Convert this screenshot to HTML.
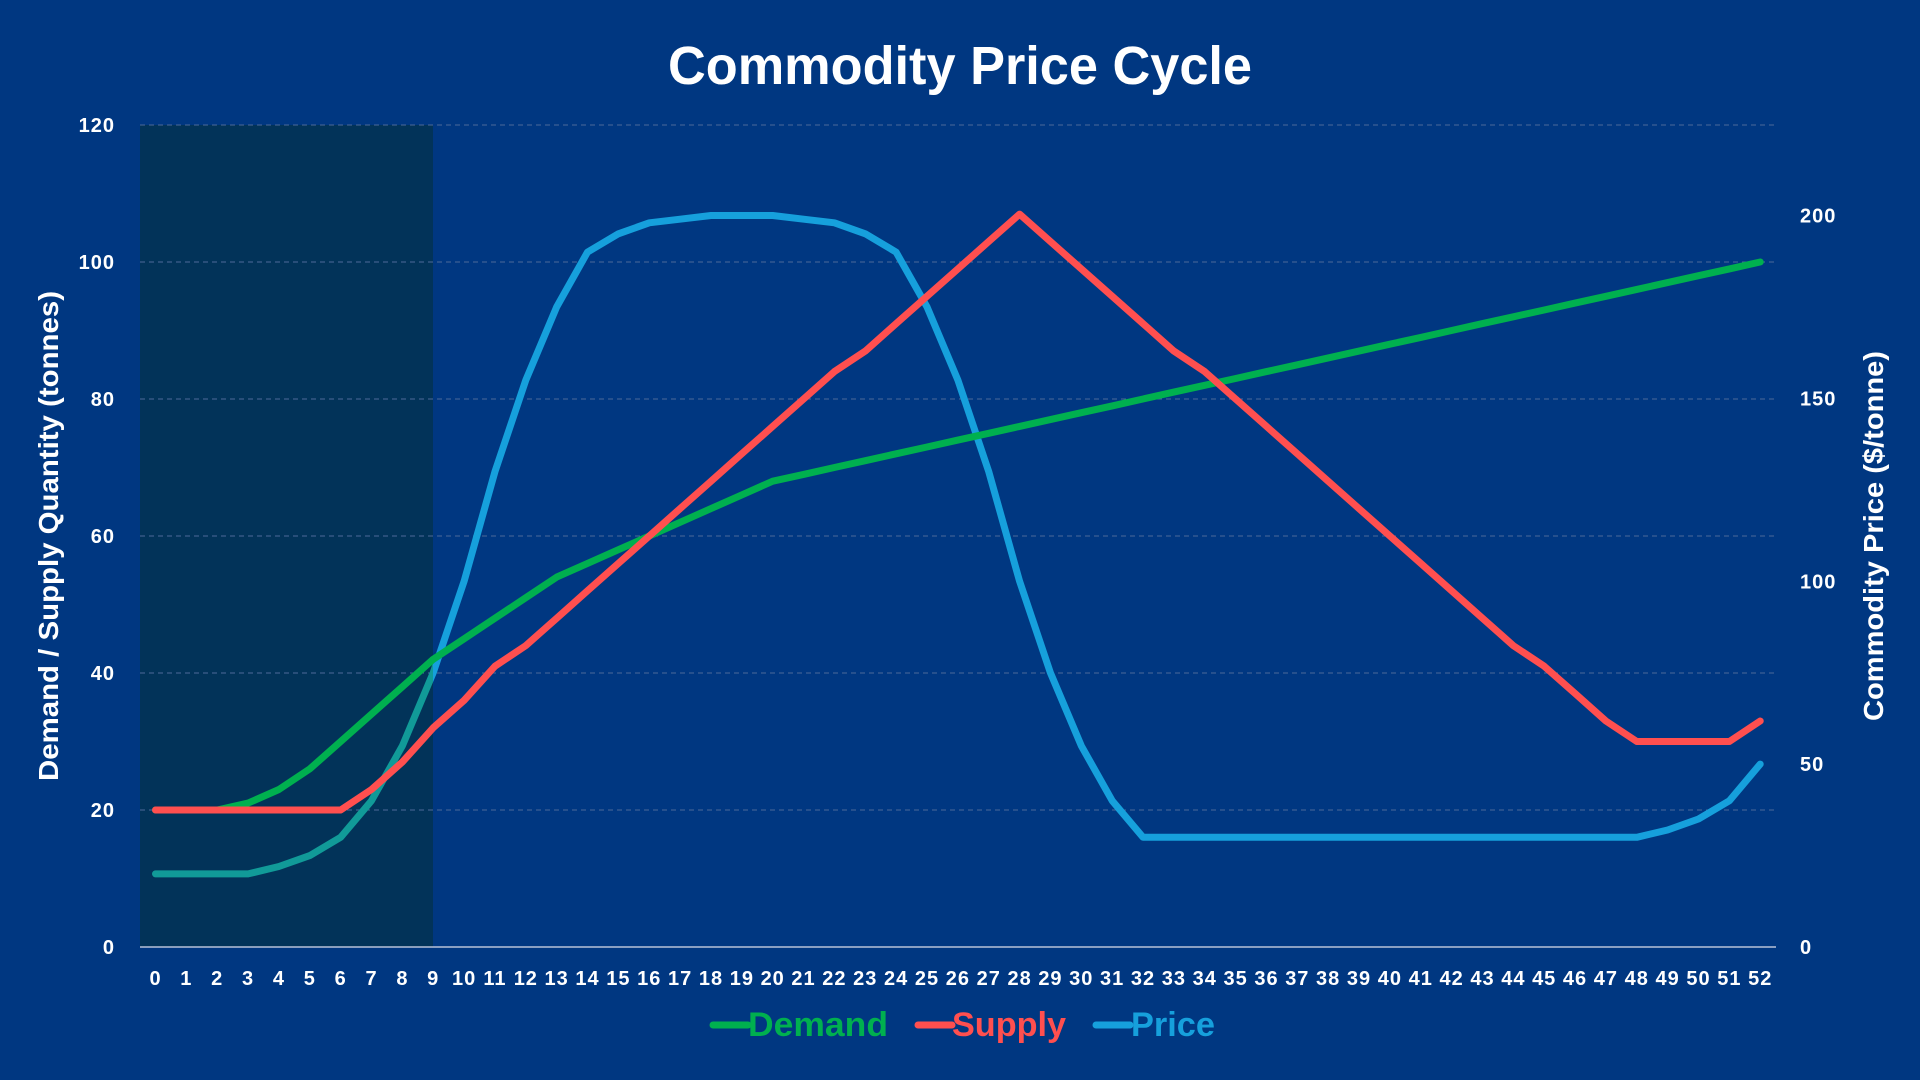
<!DOCTYPE html>
<html><head><meta charset="utf-8"><style>
html,body{margin:0;padding:0;background:#003781;}
svg{display:block}
text{font-family:"Liberation Sans",sans-serif;fill:#fff}
</style></head><body>
<svg id="s" width="1920" height="1080" viewBox="0 0 1920 1080" xmlns="http://www.w3.org/2000/svg">
<rect width="1920" height="1080" fill="#003781"/>
<rect x="140" y="125" width="293" height="822" fill="#023359"/>
<g id="grid"></g>
<line x1="140" y1="947" x2="1776" y2="947" stroke="#b8c2d8" stroke-width="1.5"/>
<text x="960" y="84" text-anchor="middle" font-size="54" font-weight="bold" textLength="584" lengthAdjust="spacingAndGlyphs">Commodity Price Cycle</text>
<g id="ticks" font-size="20" font-weight="bold" letter-spacing="1"></g>
<text transform="translate(58,536) rotate(-90)" text-anchor="middle" font-size="28" font-weight="bold" textLength="490" lengthAdjust="spacingAndGlyphs">Demand  / Supply Quantity (tonnes)</text>
<text transform="translate(1883,536) rotate(-90)" text-anchor="middle" font-size="28" font-weight="bold" textLength="370" lengthAdjust="spacingAndGlyphs">Commodity Price ($/tonne)</text>
<defs>
<clipPath id="inShade"><rect x="0" y="0" width="433" height="1080"/></clipPath>
<clipPath id="outShade"><rect x="433" y="0" width="1500" height="1080"/></clipPath>
</defs>
<g id="lines" fill="none" stroke-width="7" stroke-linejoin="round" stroke-linecap="round"></g>
<g font-size="34" font-weight="bold">
<line x1="713" y1="1025" x2="748" y2="1025" stroke="#00b04f" stroke-width="7" stroke-linecap="round"/>
<text x="748" y="1036" style="fill:#00b04f" textLength="140" lengthAdjust="spacingAndGlyphs">Demand</text>
<line x1="918" y1="1025" x2="952" y2="1025" stroke="#ff4f4f" stroke-width="7" stroke-linecap="round"/>
<text x="952" y="1036" style="fill:#ff4f4f" textLength="114" lengthAdjust="spacingAndGlyphs">Supply</text>
<line x1="1096" y1="1025" x2="1130" y2="1025" stroke="#16a0dc" stroke-width="7" stroke-linecap="round"/>
<text x="1131" y="1036" style="fill:#16a0dc" textLength="84" lengthAdjust="spacingAndGlyphs">Price</text>
</g>
</svg>
<script>
var NS="http://www.w3.org/2000/svg";
function el(t,a,p,txt){var e=document.createElementNS(NS,t);for(var k in a)e.setAttribute(k,a[k]);if(txt!==undefined)e.textContent=txt;p.appendChild(e);return e;}
var g=document.getElementById('grid'),tk=document.getElementById('ticks'),ln=document.getElementById('lines');
var y0=947,yl=822/120,yr=731.5/200;
function X(i){return 155.5+i*30.86;}
for(var v=20;v<=120;v+=20){var y=y0-v*yl;el('line',{x1:140,x2:1776,y1:y,y2:y,stroke:'#4d6899','stroke-width':1,'stroke-dasharray':'5,4'},g);}
for(var v=0;v<=120;v+=20)el('text',{x:115,y:y0-v*yl+7,'text-anchor':'end'},tk,String(v));
for(var v=0;v<=200;v+=50)el('text',{x:1800,y:y0-v*yr+7},tk,String(v));
for(var i=0;i<=52;i++)el('text',{x:X(i),y:985,'text-anchor':'middle'},tk,String(i));
var D=[20,20,20,21,23,26,30,34,38,42,45,48,51,54,56,58,60,62,64,66,68];
for(var i=21;i<=52;i++)D.push(68+(i-20));
var S=[20,20,20,20,20,20,20,23,27,32,36,41,44,48,52,56,60,64,68,72,76,80,84,87,91,95,99,103,107,103,99,95,91,87,84,80,76,72,68,64,60,56,52,48,44,41,37,33,30,30,30,30,33];
var P=[20,20,20,20,22,25,30,40,55,75,100,130,155,175,190,195,198,199,200,200,200,199,198,195,190,175,155,130,100,75,55,40,30];
while(P.length<49)P.push(30);P.push(32,35,40,50);
function pts(a,s){return a.map(function(v,i){return X(i).toFixed(1)+','+(y0-v*s).toFixed(1)}).join(' ');}
el('polyline',{points:pts(P,yr),stroke:'#119a98','clip-path':'url(#inShade)'},ln);
el('polyline',{points:pts(P,yr),stroke:'#16a0dc','clip-path':'url(#outShade)'},ln);
el('polyline',{points:pts(D,yl),stroke:'#00b04f'},ln);
el('polyline',{points:pts(S,yl),stroke:'#ff4f4f'},ln);
</script>
</body></html>
